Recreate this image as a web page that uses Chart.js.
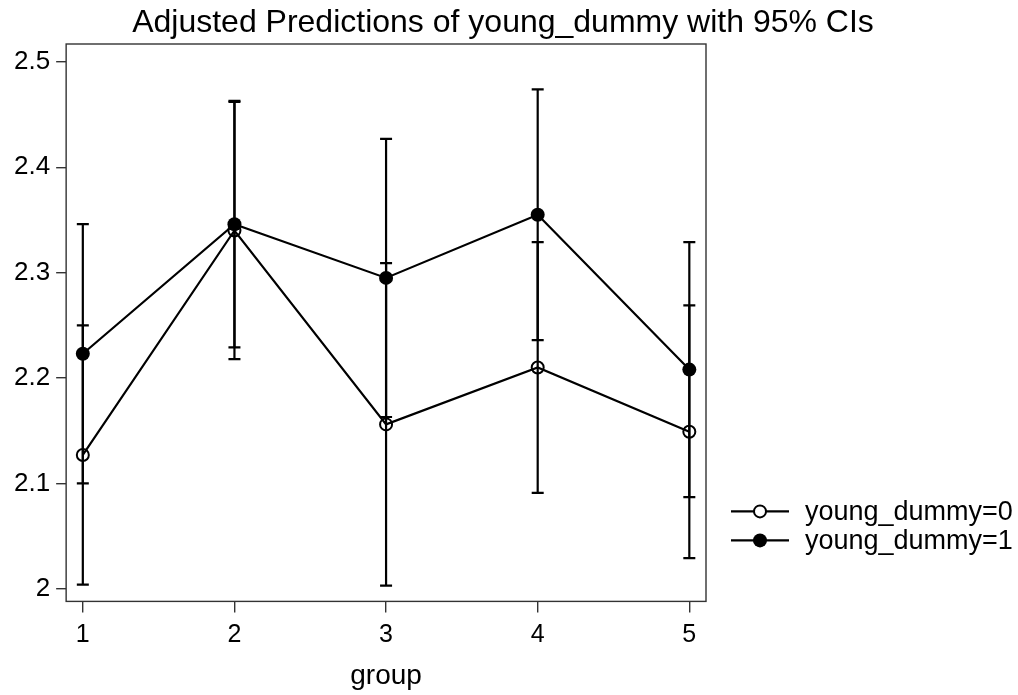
<!DOCTYPE html>
<html>
<head>
<meta charset="utf-8">
<script src="https://cdn.jsdelivr.net/npm/chart.js@4.4.1/dist/chart.umd.min.js"></script>
<style>
  body { margin: 0; background: #fff; }
  #wrap { width: 1018px; height: 695px; }
</style>
</head>
<body>
<div id="wrap"><canvas id="marginsChart" width="1018" height="695"></canvas></div>
<script>
// predicted means by group, with 95% CI bounds
const groups = [1, 2, 3, 4, 5];
const young0 = [2.127, 2.340, 2.156, 2.210, 2.149];
const young0Lo = [2.004, 2.218, 2.003, 2.091, 2.029];
const young0Hi = [2.250, 2.462, 2.309, 2.329, 2.269];
const young1 = [2.223, 2.346, 2.295, 2.355, 2.208];
const young1Lo = [2.100, 2.229, 2.163, 2.236, 2.087];
const young1Hi = [2.346, 2.463, 2.427, 2.474, 2.329];
const yTicks = [2, 2.1, 2.2, 2.3, 2.4, 2.5];
const seriesLabels = ['young_dummy=0', 'young_dummy=1'];
const chartTitle = 'Adjusted Predictions of young_dummy with 95% CIs';

const FONT = 'Liberation Sans, Arial, sans-serif';
const INK = '#000';

const toPoints = vals => groups.map((g, i) => ({ x: g, y: vals[i] }));

// CI whiskers, drawn under the markers
const ciPlugin = {
    id: 'ciBars',
    beforeDatasetsDraw(chart) {
        const { ctx, scales: { x, y } } = chart;
        const cis = [[young0Lo, young0Hi], [young1Lo, young1Hi]];
        ctx.save();
        ctx.strokeStyle = INK;
        ctx.lineWidth = 2.2;
        cis.forEach(([lo, hi]) => {
            groups.forEach((g, i) => {
                const px = x.getPixelForValue(g);
                const yl = y.getPixelForValue(lo[i]);
                const yh = y.getPixelForValue(hi[i]);
                ctx.beginPath();
                ctx.moveTo(px, yl); ctx.lineTo(px, yh);
                ctx.moveTo(px - 6, yl); ctx.lineTo(px + 6, yl);
                ctx.moveTo(px - 6, yh); ctx.lineTo(px + 6, yh);
                ctx.stroke();
            });
        });
        ctx.restore();
    }
};

// plot region outline + title centred on the whole graph
const framePlugin = {
    id: 'frame',
    afterDatasetsDraw(chart) {
        const { ctx, chartArea: a } = chart;
        ctx.save();
        ctx.strokeStyle = '#333';
        ctx.lineWidth = 1.4;
        ctx.strokeRect(a.left, a.top, a.right - a.left, a.bottom - a.top);
        ctx.fillStyle = INK;
        ctx.font = '32px ' + FONT;
        ctx.textAlign = 'center';
        ctx.textBaseline = 'alphabetic';
        ctx.fillText(chartTitle, 503, 32);
        ctx.restore();
    }
};

// legend to the right, line + marker like stata
const legendPlugin = {
    id: 'sideLegend',
    afterDraw(chart) {
        const { ctx, chartArea: a } = chart;
        ctx.save();
        ctx.font = '27px ' + FONT;
        ctx.textBaseline = 'middle';
        chart.data.datasets.forEach((ds, i) => {
            const yy = a.bottom - 90 + i * 29;
            const x0 = a.right + 25;
            ctx.strokeStyle = INK;
            ctx.lineWidth = 2.2;
            ctx.beginPath();
            ctx.moveTo(x0, yy); ctx.lineTo(x0 + 58, yy);
            ctx.stroke();
            ctx.beginPath();
            ctx.arc(x0 + 29, yy, ds.pointRadius, 0, Math.PI * 2);
            if (i === 1) { ctx.fillStyle = INK; ctx.fill(); }
            else { ctx.fillStyle = '#fff'; ctx.fill(); ctx.lineWidth = 2; ctx.stroke(); }
            ctx.fillStyle = INK;
            ctx.fillText(ds.label, x0 + 74, yy + 1);
        });
        ctx.restore();
    }
};

const chart = new Chart(document.getElementById('marginsChart').getContext('2d'), {
    type: 'line',
    data: {
        datasets: [{
            label: seriesLabels[0],
            data: toPoints(young0),
            borderColor: INK,
            borderWidth: 2.2,
            pointStyle: 'circle',
            pointRadius: 6,
            pointBorderWidth: 2,
            pointBorderColor: INK,
            pointBackgroundColor: 'rgba(0,0,0,0)',
            tension: 0
        }, {
            label: seriesLabels[1],
            data: toPoints(young1),
            borderColor: INK,
            borderWidth: 2.2,
            pointStyle: 'circle',
            pointRadius: 7,
            pointBorderWidth: 0,
            pointBackgroundColor: INK,
            tension: 0
        }]
    },
    options: {
        responsive: false,
        animation: false,
        layout: { padding: { left: 8, right: 312, top: 44, bottom: 2 } },
        plugins: {
            legend: { display: false },
            tooltip: { enabled: false },
            title: { display: false }
        },
        scales: {
            x: {
                type: 'linear',
                min: 0.89,
                max: 5.11,
                afterBuildTicks: s => { s.ticks = groups.map(v => ({ value: v })); },
                ticks: { color: INK, font: { family: FONT, size: 25 }, padding: 8 },
                grid: { drawOnChartArea: false, drawTicks: true, tickLength: 11, color: '#333', lineWidth: 1.4 },
                border: { display: false },
                title: { display: true, text: 'group', color: INK, font: { family: FONT, size: 28 }, padding: { top: 1, bottom: 0 } }
            },
            y: {
                min: 1.988,
                max: 2.517,
                afterBuildTicks: s => { s.ticks = yTicks.map(v => ({ value: v })); },
                ticks: { color: INK, font: { family: FONT, size: 26 }, padding: 6, callback: v => String(+v.toFixed(1)) },
                grid: { drawOnChartArea: false, drawTicks: true, tickLength: 10, color: '#333', lineWidth: 1.4 },
                border: { display: false }
            }
        }
    },
    plugins: [ciPlugin, framePlugin, legendPlugin]
});
</script>
</body>
</html>
